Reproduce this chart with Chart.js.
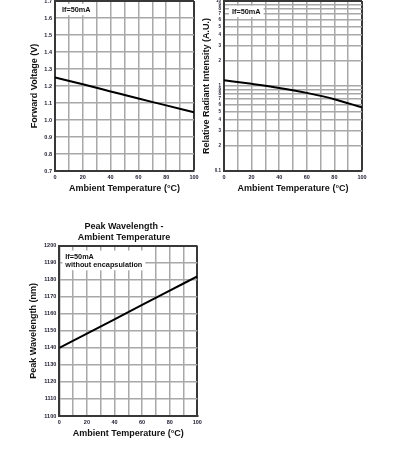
<!DOCTYPE html>
<html>
<head>
<meta charset="utf-8">
<script src="https://cdn.jsdelivr.net/npm/chart.js@4/dist/chart.umd.min.js"></script>
<style>
  body { margin: 0; background: #fff; }
  canvas { position: absolute; }
  #vfChart { left: 0; top: 0; }
  #rriChart { left: 200px; top: 0; }
  #wlChart { left: 0; top: 200px; }
</style>
</head>
<body>
<canvas id="vfChart" width="200" height="200"></canvas>
<canvas id="rriChart" width="199" height="200"></canvas>
<canvas id="wlChart" width="210" height="245"></canvas>
<script>
// data
const temps = [0, 20, 40, 60, 80, 100];
const tempLabels = ['0', '', '20', '', '40', '', '60', '', '80', '', '100'];

const forwardVoltage = [1.25, 1.21, 1.168, 1.126, 1.086, 1.045];
const vfLabels = ['0.7', '0.8', '0.9', '1.0', '1.1', '1.2', '1.3', '1.4', '1.5', '1.6', '1.7'];

const radiantIntensity = [1.17, 1.06, 0.95, 0.83, 0.70, 0.56];
const rriTickValues = [0.1, 0.2, 0.3, 0.4, 0.5, 0.6, 0.7, 0.8, 0.9, 1, 2, 3, 4, 5, 6, 7, 8, 9, 10];
const rriLabels = ['0.1', '2', '3', '4', '5', '6', '7', '8', '9', '1', '2', '3', '4', '5', '6', '7', '8', '9', '10'];

const peakWavelength = [1140, 1148.4, 1156.8, 1165.2, 1173.6, 1182];
const wlLabels = ['1100', '1110', '1120', '1130', '1140', '1150', '1160', '1170', '1180', '1190', '1200'];

const FONT = '"Liberation Sans", Arial, sans-serif';
const gridGray = '#a8a8a8';
const borderDark = '#383838';

// white box with the test condition text
const noteBox = {
    id: 'noteBox',
    beforeDatasetsDraw(chart, args, opts) {
        if (!opts.lines) return;
        const { ctx, chartArea } = chart;
        ctx.save();
        ctx.font = 'bold ' + opts.size + 'px ' + FONT;
        const w = Math.max(...opts.lines.map((t) => ctx.measureText(t).width));
        const x = chartArea.left + opts.dx;
        const y = chartArea.top + opts.dy;
        const lh = opts.size * 1.15;
        ctx.fillStyle = '#fff';
        ctx.fillRect(x - 3, y - lh / 2 - 2, w + 6, lh * opts.lines.length + 3);
        ctx.fillStyle = '#111';
        ctx.textBaseline = 'middle';
        opts.lines.forEach((t, i) => ctx.fillText(t, x, y + i * lh));
        ctx.restore();
    }
};

function edgeColor(max) {
    return (c) => (c.tick && c.tick.value === max ? borderDark : gridGray);
}
function edgeWidth(max) {
    return (c) => (c.tick && c.tick.value === max ? 2 : 1.5);
}

function xScale(height, titlePad) {
    return {
        type: 'linear',
        min: 0,
        max: 100,
        ticks: {
            stepSize: 10,
            autoSkip: false,
            maxRotation: 0,
            padding: 3,
            color: '#1a1a2e',
            font: { family: FONT, size: 5.5, weight: 'bold' },
            callback: (v, i) => tempLabels[i]
        },
        grid: { color: edgeColor(100), lineWidth: edgeWidth(100), drawTicks: false },
        border: { color: borderDark, width: 2 },
        title: {
            display: true,
            text: 'Ambient Temperature (°C)',
            color: '#111',
            font: { family: FONT, size: 9, weight: 'bold' },
            padding: { top: 0, bottom: titlePad }
        },
        afterFit(scale) {
            scale.height = height;
            scale.paddingLeft = 0;
            scale.paddingRight = 0;
        }
    };
}

function yTitle(text, pad) {
    return {
        display: true,
        text: text,
        color: '#111',
        font: { family: FONT, size: 9, weight: 'bold' },
        padding: { top: pad, bottom: 0 }
    };
}

function lineSet(values) {
    return [{
        data: temps.map((t, i) => ({ x: t, y: values[i] })),
        borderColor: '#000',
        borderWidth: 2,
        pointRadius: 0,
        cubicInterpolationMode: 'monotone',
        fill: false
    }];
}

Chart.defaults.animation = false;
Chart.defaults.devicePixelRatio = 1;

new Chart(document.getElementById('vfChart'), {
    type: 'line',
    data: { datasets: lineSet(forwardVoltage) },
    options: {
        responsive: false,
        layout: { padding: { top: 1, left: 0, right: 6, bottom: 0 } },
        plugins: {
            legend: { display: false },
            tooltip: { enabled: false },
            noteBox: { lines: ['If=50mA'], dx: 7, dy: 9, size: 7.3 }
        },
        scales: {
            x: xScale(29, 5.6),
            y: {
                min: 0.7,
                max: 1.7,
                ticks: {
                    stepSize: 0.1,
                    autoSkip: false,
                    padding: 3,
                    color: '#1a1a2e',
                    font: { family: FONT, size: 5.5, weight: 'bold' },
                    callback: (v, i) => vfLabels[i]
                },
                grid: { color: edgeColor(1.7), lineWidth: edgeWidth(1.7), drawTicks: false },
                border: { color: borderDark, width: 2 },
                title: yTitle('Forward Voltage (V)', 29.6),
                afterFit(scale) {
                    scale.width = 55;
                    scale.paddingTop = 0;
                    scale.paddingBottom = 0;
                }
            }
        }
    },
    plugins: [noteBox]
});

new Chart(document.getElementById('rriChart'), {
    type: 'line',
    data: { datasets: lineSet(radiantIntensity) },
    options: {
        responsive: false,
        layout: { padding: { top: 1, left: 0, right: 37, bottom: 0 } },
        plugins: {
            legend: { display: false },
            tooltip: { enabled: false },
            noteBox: { lines: ['If=50mA'], dx: 8, dy: 11, size: 7.3 }
        },
        scales: {
            x: xScale(29, 5.6),
            y: {
                type: 'logarithmic',
                min: 0.1,
                max: 10,
                afterBuildTicks(scale) {
                    scale.ticks = rriTickValues.map((v) => ({ value: v }));
                },
                ticks: {
                    autoSkip: false,
                    padding: 3,
                    color: '#1a1a2e',
                    font: { family: FONT, size: 4.5, weight: 'bold' },
                    callback: (v, i) => rriLabels[i]
                },
                grid: { color: edgeColor(10), lineWidth: edgeWidth(10), drawTicks: false },
                border: { color: borderDark, width: 2 },
                title: yTitle('Relative Radiant Intensity (A.U.)', 1.3),
                afterFit(scale) {
                    scale.width = 24;
                    scale.paddingTop = 0;
                    scale.paddingBottom = 0;
                }
            }
        }
    },
    plugins: [noteBox]
});

new Chart(document.getElementById('wlChart'), {
    type: 'line',
    data: { datasets: lineSet(peakWavelength) },
    options: {
        responsive: false,
        layout: { padding: { top: 0, left: 40, right: 2, bottom: 0 } },
        plugins: {
            legend: { display: false },
            tooltip: { enabled: false },
            title: {
                display: true,
                text: ['Peak Wavelength -', 'Ambient Temperature'],
                color: '#111',
                font: { family: FONT, size: 9, weight: 'bold' },
                padding: { top: 21.3, bottom: 2.8 }
            },
            noteBox: { lines: ['If=50mA', 'without encapsulation'], dx: 6, dy: 11, size: 7.3 }
        },
        scales: {
            x: xScale(29, 6.3),
            y: {
                min: 1100,
                max: 1200,
                ticks: {
                    stepSize: 10,
                    autoSkip: false,
                    padding: 3,
                    color: '#1a1a2e',
                    font: { family: FONT, size: 5.5, weight: 'bold' },
                    callback: (v, i) => wlLabels[i]
                },
                grid: { color: edgeColor(1200), lineWidth: edgeWidth(1200), drawTicks: false },
                border: { color: borderDark, width: 2 },
                title: yTitle('Peak Wavelength (nm)', -12.1),
                afterFit(scale) {
                    scale.width = 19.3;
                    scale.paddingTop = 0;
                    scale.paddingBottom = 0;
                }
            },
            // empty spacer on the right so the title centres like the original
            spacer: {
                type: 'linear',
                position: 'right',
                ticks: { display: false },
                grid: { display: false },
                border: { display: false },
                afterFit(scale) {
                    scale.width = 10.7;
                }
            }
        }
    },
    plugins: [noteBox]
});
</script>
</body>
</html>
